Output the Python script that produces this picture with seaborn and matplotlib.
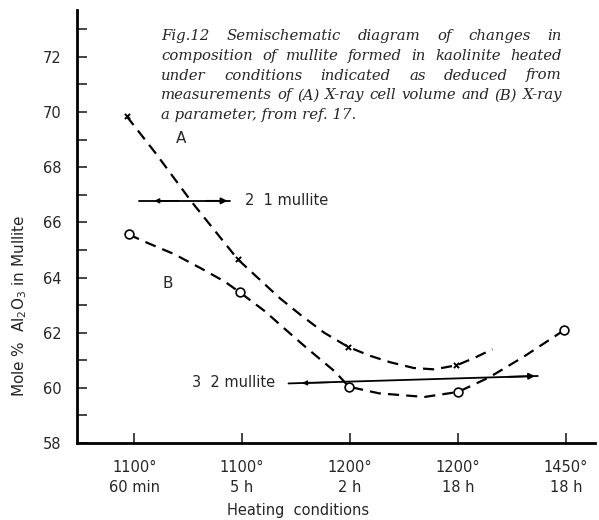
import numpy as np
import pandas as pd
import matplotlib
matplotlib.use("Agg")
import matplotlib.pyplot as plt
import seaborn as sns
from matplotlib.ticker import MultipleLocator

# ---------------- data ----------------
categories = ["1100°\n60 min", "1100°\n5 h", "1200°\n2 h", "1200°\n18 h", "1450°\n18 h"]
cat_pos = [0, 1, 2, 3, 4]

# measured points
A_pts_x = [-0.07, 0.96, 1.98, 2.98]
A_pts_y = [69.85, 64.66, 61.49, 60.82]
B_pts_x = [-0.05, 0.98, 1.99, 3.00, 3.98]
B_pts_y = [65.56, 63.46, 60.04, 59.85, 62.08]

# dashed curves
A_curve_x = [-0.07, 0.20, 0.525, 0.96, 1.35, 1.54, 1.76, 1.98, 2.18, 2.37, 2.59, 2.78, 2.99, 3.16, 3.32]
A_curve_y = [69.85, 68.5, 66.78, 64.66, 63.25, 62.65, 62.0, 61.49, 61.17, 60.93, 60.72, 60.67, 60.82, 61.1, 61.4]
B_curve_x = [-0.05, 0.12, 0.37, 0.62, 0.84, 0.98, 1.21, 1.45, 1.60, 1.86, 1.99, 2.27, 2.69, 3.00, 3.29, 3.61, 3.98]
B_curve_y = [65.56, 65.26, 64.85, 64.33, 63.85, 63.46, 62.78, 61.95, 61.44, 60.59, 60.04, 59.8, 59.67, 59.85, 60.38, 61.13, 62.08]

# composition reference lines (mullite 2:1 and 3:2)
ref21_x = [0.04, 0.89]
ref21_y = [66.78, 66.78]
ref32_x = [1.43, 3.74]
ref32_y = [60.16, 60.43]

y_ticks = [58, 60, 62, 64, 66, 68, 70, 72]

caption = ["Fig.12 Semischematic diagram of changes in",
           "composition of mullite formed in kaolinite heated",
           "under conditions indicated as deduced from",
           "measurements of (A) X-ray cell volume and (B) X-ray",
           "a parameter, from ref. 17."]

# ---------------- figure ----------------
sns.set_theme(style="white")
plt.rcParams['font.family'] = ['DejaVu Sans']
plt.rcParams['mathtext.fontset'] = 'dejavusans'

W, H = 599, 520
fig = plt.figure(figsize=(W / 100, H / 100), dpi=100)
ax_left, ax_right, ax_top, ax_bottom = 77, 595, 10, 443
ax = fig.add_axes([ax_left / W, 1 - ax_bottom / H, (ax_right - ax_left) / W, (ax_bottom - ax_top) / H])

lw = 1.6
dash = (0, (5, 3.2))
sns.lineplot(x=A_curve_x, y=A_curve_y, sort=False, color="black", lw=lw, linestyle=dash, ax=ax)
sns.lineplot(x=B_curve_x, y=B_curve_y, sort=False, color="black", lw=lw, linestyle=dash, ax=ax)

sns.scatterplot(x=A_pts_x, y=A_pts_y, marker="x", s=14, color="black", linewidth=1.4, ax=ax, zorder=5)
sns.scatterplot(x=B_pts_x, y=B_pts_y, marker="o", s=40, facecolor="white", edgecolor="black",
                linewidth=1.2, ax=ax, zorder=5)

# reference lines with arrows
ax.plot(ref21_x, ref21_y, color="black", lw=1.3)
ax.annotate("", xy=(ref21_x[1], ref21_y[1]), xytext=(ref21_x[1] - 0.25, ref21_y[1]),
            arrowprops=dict(arrowstyle="-|>", color="black", lw=1.3, mutation_scale=9))
ax.annotate("", xy=(ref21_x[0] + 0.12, ref21_y[0]), xytext=(ref21_x[0] + 0.4, ref21_y[0]),
            arrowprops=dict(arrowstyle="-|>", color="black", lw=1.0, mutation_scale=7))
ax.text(ref21_x[1] + 0.14, ref21_y[1], "2  1 mullite", fontsize=10.5, va="center", ha="left")

ax.plot(ref32_x, ref32_y, color="black", lw=1.3)
ax.annotate("", xy=(ref32_x[1], ref32_y[1]), xytext=(ref32_x[1] - 0.3, ref32_y[1] - 0.035),
            arrowprops=dict(arrowstyle="-|>", color="black", lw=1.3, mutation_scale=9))
ax.annotate("", xy=(ref32_x[0] + 0.1, ref32_y[0] + 0.01), xytext=(ref32_x[0] + 0.4, ref32_y[0] + 0.04),
            arrowprops=dict(arrowstyle="-|>", color="black", lw=1.0, mutation_scale=7))
ax.text(ref32_x[0] - 0.12, ref32_y[0] + 0.02, "3  2 mullite", fontsize=10.5, va="center", ha="right")

ax.text(0.43, 69.04, "A", fontsize=11, ha="center", va="center")
ax.text(0.31, 63.8, "B", fontsize=11, ha="center", va="center")

# axes styling
ax.set_xlim(-0.53, 4.27)
ax.set_ylim(58, 73.7)
ax.set_xticks(cat_pos)
ax.set_xticklabels(categories, fontsize=10.5, linespacing=1.45)
ax.set_yticks(y_ticks)
ax.set_yticklabels([str(v) for v in y_ticks], fontsize=10.5)
ax.yaxis.set_minor_locator(MultipleLocator(1))
ax.tick_params(axis="y", which="both", direction="in", length=7, width=1.2, pad=11, left=True)
ax.tick_params(axis="x", which="major", direction="in", length=7, width=1.2, pad=12, bottom=True)
ax.tick_params(axis="x", which="minor", bottom=False)
for s in ["top", "right"]:
    ax.spines[s].set_visible(False)
for s in ["left", "bottom"]:
    ax.spines[s].set_linewidth(2.0)
    ax.spines[s].set_color("black")
ax.set_xlabel("")
ax.set_ylabel("")

fig.text(20 / W, 1 - 306 / H, "Mole %  Al$_2$O$_3$ in Mullite", rotation=90, ha="center", va="center", fontsize=11)
fig.text(298 / W, 1 - 510 / H, "Heating  conditions", ha="center", va="center", fontsize=10.5)

# caption, justified block
cap_left, cap_right = 161, 562
cap_y0, cap_dy = 36, 19.75
fam = ["DejaVu Serif"]
fig.canvas.draw()
renderer = fig.canvas.get_renderer()
probe = fig.text(0, 0, caption[3], family=fam, style="italic", fontsize=11)
nat = probe.get_window_extent(renderer).width
probe.remove()
cap_fs = 11 * (cap_right - cap_left) / nat * 0.985
cap_font = dict(family=fam, style="italic", fontsize=cap_fs)
for i, line in enumerate(caption):
    ypix = cap_y0 + i * cap_dy
    yf = 1 - ypix / H
    if i == len(caption) - 1:
        fig.text(cap_left / W, yf, line, ha="left", va="center", **cap_font)
        continue
    words = line.split(" ")
    arts = [fig.text(0, yf, w, ha="left", va="center", **cap_font) for w in words]
    widths = [a.get_window_extent(renderer).width for a in arts]
    gap = (cap_right - cap_left - sum(widths)) / (len(words) - 1)
    x = cap_left
    for a, w in zip(arts, widths):
        a.set_x(x / W)
        x += w + gap

fig.savefig("out.png", dpi=100)
